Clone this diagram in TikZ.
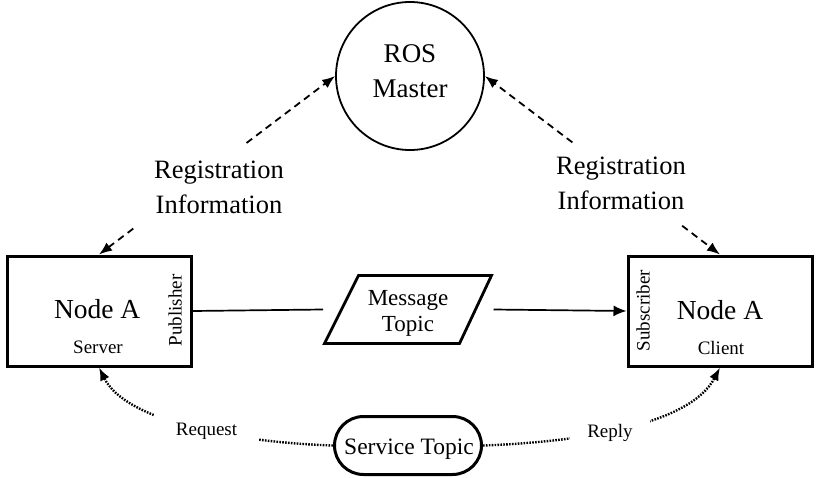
\documentclass[tikz,border=0pt]{standalone}
\usepackage{fontspec}
\setmainfont{Liberation Serif}
\usetikzlibrary{shapes.geometric,arrows.meta,calc}
\begin{document}
\begin{tikzpicture}[x=1pt,y=-1pt,
  boxnode/.style={draw, line width=3pt, minimum width=184pt, minimum height=110pt, inner sep=0pt},
  bigtext/.style={font=\fontsize{27}{35.6}\selectfont, align=center, inner sep=0pt},
  regtext/.style={font=\fontsize{26.5}{35}\selectfont, align=center, inner sep=0pt},
  nodetext/.style={font=\fontsize{27.5}{33}\selectfont, inner sep=0pt, anchor=base},
  midtext/.style={font=\fontsize{23}{26.5}\selectfont, align=center, inner sep=0pt},
  smalltext/.style={font=\fontsize{19}{22}\selectfont, inner sep=0pt, anchor=base},
  tip/.style={-{Latex[length=13pt,width=10pt]}},
  regarrow/.style={line width=1.8pt, dash pattern=on 7pt off 5pt, tip},
  svcarrow/.style={line width=2.4pt, dash pattern=on 1.6pt off 1.3pt, tip},
  msgline/.style={line width=1.7pt},
]
\useasboundingbox (0,0) rectangle (816,477);
\fill[white] (0,0) rectangle (816,477);

% ROS Master
\node[circle, draw, line width=1.8pt, minimum size=148pt, inner sep=0pt] (master) at (410,76) {};
\node[bigtext] (masterlbl) at (410,71.3) {ROS\\Master};

% Nodes
\node[boxnode] (left) at (99,311) {};
\node[boxnode] (right) at (720,311) {};
\node[nodetext] (lname) at (97.2,318.5) {Node A};
\node[smalltext] (lrole) at (98,353) {Server};
\node[smalltext, rotate=90] (lpub) at (181.5,310.5) {Publisher};
\node[nodetext] (rname) at (720,319) {Node A};
\node[smalltext] (rrole) at (721,354) {Client};
\node[smalltext, rotate=90] (rsub) at (649.5,310.5) {Subscriber};

% Message topic (parallelogram)
\node[minimum width=167pt, minimum height=68pt, inner sep=0pt, outer sep=0pt] (msg) at (408,309.5) {};
\draw[line width=2.8pt, line join=miter]
  (msg.south west) -- ($(msg.north west)+(34,0)$) -- (msg.north east)
  -- ($(msg.south east)+(-32,0)$) -- cycle;
\node[midtext] (msglbl) at (408,313.6) {Message\\Topic};

\draw[msgline] (left.east) -- ($(msg.west)+(-1.5,0)$);
\draw[msgline, -{Latex[length=13pt,width=11pt]}] ($(msg.east)+(2,0)$) -- (right.west);

% Service topic
\node[draw, line width=3pt, rounded corners=29pt, minimum width=147pt, minimum height=58pt, inner sep=0pt] (st) at (408,445.5) {};
\node[font=\fontsize{23.5}{28}\selectfont, inner sep=0pt, anchor=base] (stlbl) at (409,454) {Service Topic};

\draw[svcarrow] (st.west) .. controls (230,442) and (125,420) .. (left.south);
\draw[svcarrow] (st.east) .. controls (580,442) and (690,425) .. (right.south);
\node[smalltext, fill=white, inner xsep=22pt, inner ysep=11pt] (req) at (206.5,435) {Request};
\node[smalltext, fill=white, inner xsep=17.5pt, inner ysep=7pt] (rep) at (610,437.5) {Reply};

% Registration
\coordinate (la) at ($(left.north)!0.145!(master.west)$);
\coordinate (lb) at ($(left.north)!0.625!(master.west)$);
\coordinate (ra) at ($(right.north)!0.161!(master.east)$);
\coordinate (rb) at ($(right.north)!0.628!(master.east)$);
\draw[regarrow] (lb) -- (master.west);
\draw[regarrow] (la) -- (left.north);
\draw[regarrow] (rb) -- (master.east);
\draw[regarrow] (ra) -- (right.north);
\node[regtext] (regl) at (219,187) {Registration\\Information};
\node[regtext] (regr) at (621,183.5) {Registration\\Information};
\end{tikzpicture}
\end{document}
